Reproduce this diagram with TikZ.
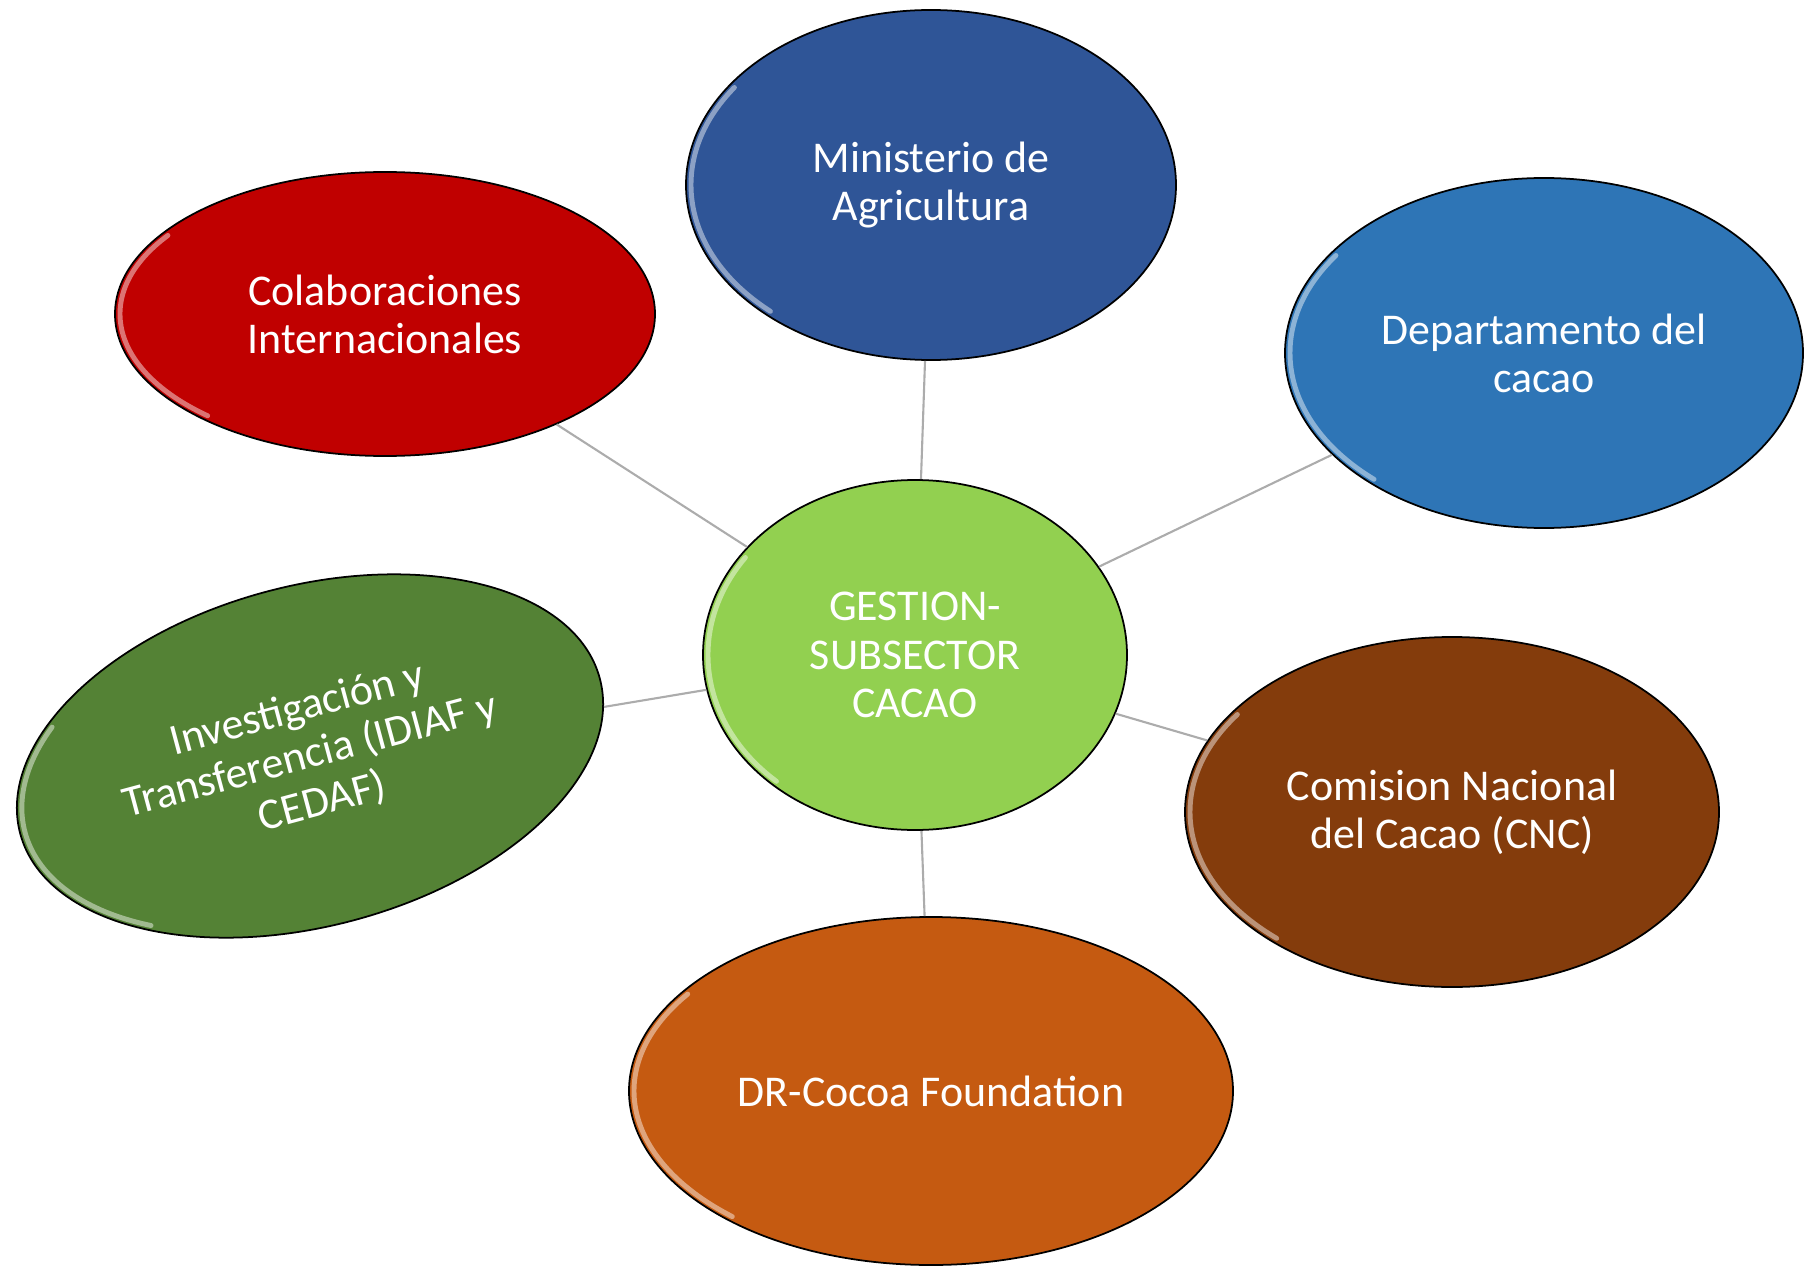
\documentclass[tikz,border=0pt]{standalone}
\usepackage{fontspec}
\setmainfont{Carlito}
\usetikzlibrary{shapes.geometric}
\definecolor{minblue}{HTML}{2F5597}
\definecolor{depblue}{HTML}{2E75B6}
\definecolor{colred}{HTML}{C00000}
\definecolor{gesgreen}{HTML}{92D050}
\definecolor{invgreen}{HTML}{548235}
\definecolor{cncbrown}{HTML}{843C0C}
\definecolor{drorange}{HTML}{C55A11}
\begin{document}
\begin{tikzpicture}[
  bubble/.style={ellipse, draw=black, line width=.5pt, text=white, inner sep=0pt,
    align=center, font=\fontsize{12.5}{13.7}\selectfont},
  gloss/.style={white, opacity=.45, line width=1.4pt, line cap=round},
  link/.style={draw=gray!65, line width=.6pt}]
\useasboundingbox (0,0) rectangle (18.04,12.69);
\node [bubble, fill=gesgreen, minimum width=4.24cm, minimum height=3.5cm] (ges) at (9.15,6.14) {GESTION-\\SUBSECTOR\\CACAO};
\node [bubble, fill=minblue, minimum width=4.9cm, minimum height=3.5cm] (min) at (9.31,10.84) {Ministerio de\\Agricultura};
\node [bubble, fill=colred, minimum width=5.4cm, minimum height=2.84cm] (col) at (3.85,9.55) {Colaboraciones\\Internacionales};
\node [bubble, fill=depblue, minimum width=5.18cm, minimum height=3.5cm] (dep) at (15.44,9.16) {Departamento del\\cacao};
\node [bubble, fill=invgreen, minimum width=6cm, minimum height=3.4cm, rotate=15] (inv) at (3.1,5.13) {Investigación y\\Transferencia (IDIAF y\\CEDAF)};
\node [bubble, fill=cncbrown, minimum width=5.34cm, minimum height=3.5cm] (cnc) at (14.52,4.57) {Comision Nacional\\del Cacao (CNC)};
\node [bubble, fill=drorange, minimum width=6.04cm, minimum height=3.48cm] (drc) at (9.31,1.78) {DR-Cocoa Foundation};
% shine on the left rim
\foreach \n/\a/\b/\rot in {ges/2.07/1.7/0, min/2.4/1.7/0, col/2.65/1.37/0, dep/2.54/1.7/0,
    inv/2.95/1.65/15, cnc/2.62/1.7/0, drc/2.97/1.69/0}
  \draw [gloss, shift={(\n.center)}, rotate=\rot] (145:\a cm and \b cm)
    arc [start angle=145, end angle=228, x radius=\a cm, y radius=\b cm];
% spokes
\foreach \n in {min,col,dep,inv,cnc,drc}
  \draw [link] (ges) -- (\n);
\end{tikzpicture}
\end{document}
